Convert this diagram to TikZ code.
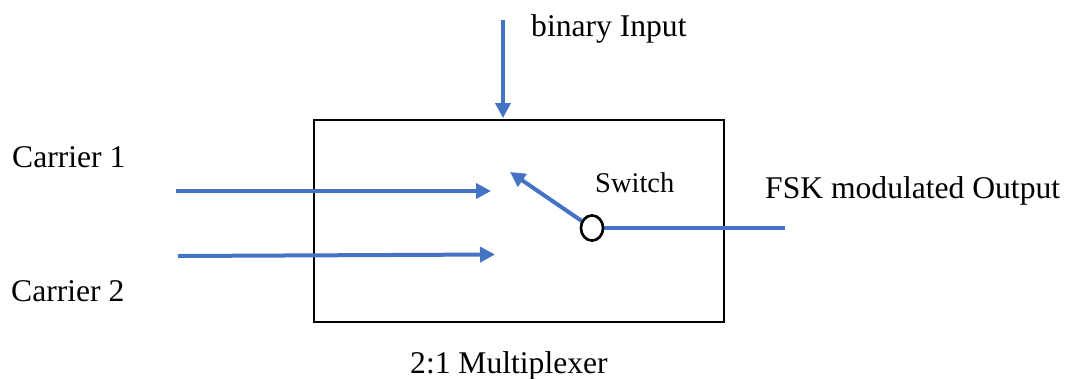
\documentclass[tikz,border=0pt]{standalone}
\usepackage{fontspec}
\setmainfont{Liberation Serif}
\usetikzlibrary{arrows.meta,shapes.geometric}
\definecolor{sigblue}{RGB}{68,114,196}
\tikzset{
  signal/.style={draw=sigblue, line width=4pt},
  sigarrow/.style={signal, -{Triangle[length=15pt,width=15pt]}},
  label/.style={anchor=base west, inner sep=0pt, font=\fontsize{31.6}{36}\selectfont},
  smalllabel/.style={anchor=base west, inner sep=0pt, font=\fontsize{28.5}{33}\selectfont},
  muxbox/.style={draw=black, line width=2.5pt, minimum width=410pt, minimum height=202pt, inner sep=0pt},
  pivot/.style={ellipse, draw=black, fill=white, line width=2.5pt, minimum width=22pt, minimum height=25pt, inner sep=0pt}
}
\begin{document}
\begin{tikzpicture}[x=1pt,y=-1pt]
  \useasboundingbox (0,0) rectangle (1070,378);

  % multiplexer body
  \node[muxbox] (mux) at (519,221) {};

  % labels
  \node[label] (lbin) at (531,36) {binary Input};
  \node[label] (lc1) at (12,167) {Carrier 1};
  \node[label] (lc2) at (11,301) {Carrier 2};
  \node[smalllabel] (lsw) at (595,192) {Switch};
  \node[label] (lout) at (765,198) {FSK modulated Output};
  \node[label] (lmux) at (410,373) {2:1 Multiplexer};

  % signal end points
  \coordinate (binsrc) at (503,20);
  \coordinate (bintip) at (503,118);
  \coordinate (c1src) at (176,191);
  \coordinate (c1tip) at (491,191);
  \coordinate (c2src) at (178,256);
  \coordinate (c2tip) at (495,254.5);
  \coordinate (swtip) at (510,172);
  \coordinate (outend) at (785,228);

  % switch pivot
  \node[pivot] (sw) at (592,228) {};

  % signals
  \draw[sigarrow] (binsrc) -- (bintip);
  \draw[sigarrow] (c1src) -- (c1tip);
  \draw[sigarrow] (c2src) -- (c2tip);
  \draw[sigarrow] (sw) -- (swtip);
  \draw[signal] (sw.east) -- (outend);
  \node[pivot] at (sw) {};
\end{tikzpicture}
\end{document}
